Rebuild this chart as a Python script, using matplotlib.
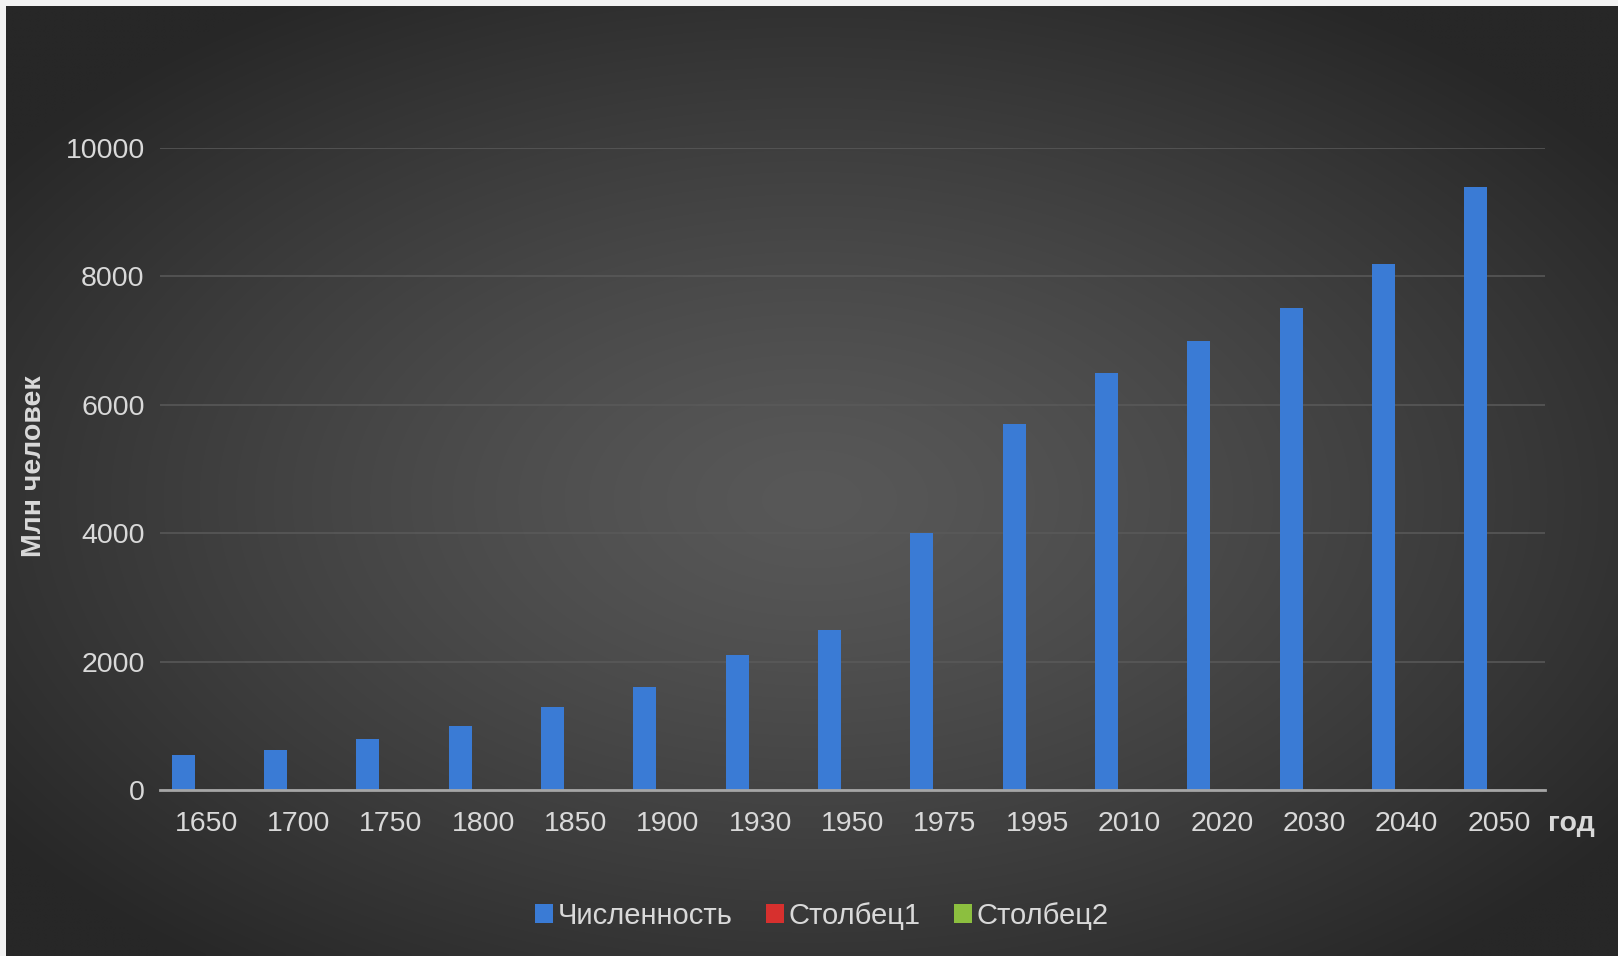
import numpy as np
import matplotlib.pyplot as plt

years = ['1650', '1700', '1750', '1800', '1850', '1900', '1930', '1950',
         '1975', '1995', '2010', '2020', '2030', '2040', '2050']
population = [550, 630, 800, 1000, 1300, 1600, 2100, 2500,
              4000, 5700, 6500, 7000, 7500, 8200, 9400]
col1 = [0] * len(years)  # Столбец1 - пустой
col2 = [0] * len(years)  # Столбец2 - пустой
yticks = [0, 2000, 4000, 6000, 8000, 10000]

W, H = 1618, 956
fig = plt.figure(figsize=(W / 100, H / 100), dpi=100, facecolor='#f2f2f2')

# фон - радиальный градиент
bg = fig.add_axes([6 / W, 0, 1 - 6 / W, 1 - 6 / H])
gx, gy = np.meshgrid(np.linspace(0, 1, 400), np.linspace(0, 1, 240))
r = np.sqrt(((gx - 0.5) / 1.0) ** 2 + ((gy - 0.52) / 1.0) ** 2) / 0.62
r = np.clip(r, 0, 1) ** 1.3
c0 = np.array([0x58, 0x58, 0x58]) / 255
c1 = np.array([0x27, 0x27, 0x27]) / 255
img = c0[None, None, :] * (1 - r[..., None]) + c1[None, None, :] * r[..., None]
bg.imshow(img, aspect='auto', extent=[0, 1, 0, 1], interpolation='bilinear')
bg.axis('off')

L, R, B, T = 160, 1545, 790, 148
ax = fig.add_axes([L / W, 1 - B / H, (R - L) / W, (B - T) / H])
ax.set_facecolor('none')

x = np.arange(len(years))
w = 0.25
ax.bar(x - w, population, w, color='#3a7bd5', label='Численность', zorder=3)
ax.bar(x, col1, w, color='#d7302e', label='Столбец1', linewidth=0, zorder=3)
ax.bar(x + w, col2, w, color='#8cbf3f', label='Столбец2', linewidth=0, zorder=3)

ax.set_xlim(-0.5, len(years) - 0.5)
ax.set_ylim(0, 10000)
ax.set_yticks(yticks)
ax.set_xticks(x)
ax.set_xticklabels(years)

for s in ['top', 'right', 'left']:
    ax.spines[s].set_visible(False)
ax.spines['bottom'].set_color('#a6a6a6')
ax.spines['bottom'].set_linewidth(2)
ax.spines['bottom'].set_zorder(4)

ax.grid(axis='y', color='#5a5a5a', linewidth=1.1, zorder=0)
ax.tick_params(axis='both', length=0, colors='#d9d9d9', labelsize=20.5)
ax.tick_params(axis='x', pad=15)
ax.tick_params(axis='y', pad=11)
for t in ax.get_xticklabels() + ax.get_yticklabels():
    t.set_family('Liberation Sans')

fig.text(34 / W, 1 - 466 / H, 'Млн человек', family='Liberation Sans',
         fontsize=20.5, fontweight='bold', color='#d9d9d9', rotation=90,
         ha='center', va='center')

fig.text(1548 / W, 1 - 824 / H, 'год', family='Liberation Sans',
         fontsize=20.5, fontweight='bold', color='#d9d9d9', ha='left', va='center')

leg = fig.legend(loc='center', bbox_to_anchor=(822 / W, 1 - 916 / H), ncol=3,
                 frameon=False, handlelength=0.62, handleheight=0.62,
                 handletextpad=0.15, columnspacing=1.15,
                 prop={'family': 'Liberation Sans', 'size': 21})
for t in leg.get_texts():
    t.set_color('#d9d9d9')

fig.savefig('out.png', dpi=100, facecolor=fig.get_facecolor())
